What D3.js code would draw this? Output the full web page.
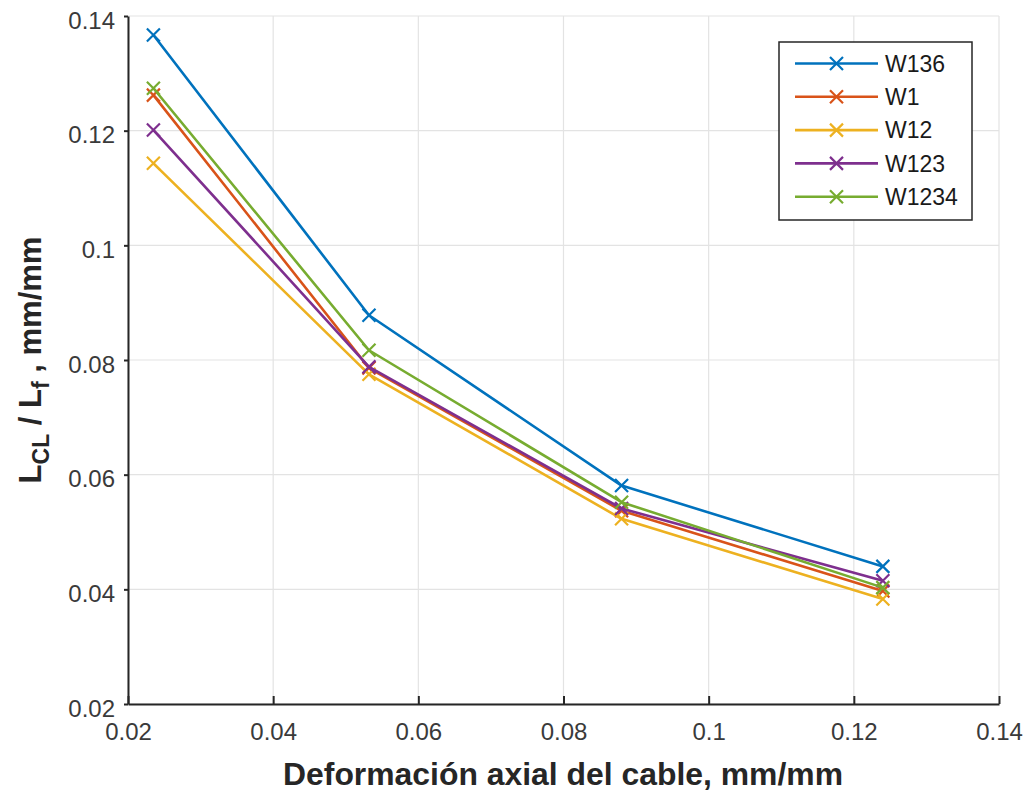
<!DOCTYPE html>
<html><head><meta charset="utf-8">
<script src="https://cdn.jsdelivr.net/npm/d3@7"></script>
<style>
html,body{margin:0;padding:0;background:#fff;}
svg{display:block;font-family:"Liberation Sans",Arial,sans-serif;}
</style></head>
<body>
<svg id="chart" width="1028" height="796"></svg>
<script>
const xValues = [0.0235, 0.0532, 0.0880, 0.1240];
const seriesNames = ["W136", "W1", "W12", "W123", "W1234"];
const W136  = [0.1367, 0.0878, 0.0581, 0.0440];
const W1    = [0.1262, 0.0786, 0.0537, 0.0397];
const W12   = [0.1143, 0.0775, 0.0523, 0.0383];
const W123  = [0.1201, 0.0788, 0.0541, 0.0415];
const W1234 = [0.1274, 0.0817, 0.0552, 0.0403];
const seriesValues = [W136, W1, W12, W123, W1234];
const colors = ["#0072BD", "#D95319", "#EDB120", "#7E2F8E", "#77AC30"];
const xTicks = [0.02, 0.04, 0.06, 0.08, 0.1, 0.12, 0.14];
const yTicks = [0.02, 0.04, 0.06, 0.08, 0.1, 0.12, 0.14];
const xTitle = "Deformación axial del cable, mm/mm";

const svg = d3.select("#chart");
const L = 128, R = 999, T = 16, B = 704;
const x = d3.scaleLinear().domain([0.02, 0.14]).range([L, R]);
const y = d3.scaleLinear().domain([0.02, 0.14]).range([B, T]);
const axisColor = "#262626";

// grid
const grid = svg.append("g");
grid.selectAll("line.gx").data(xTicks).enter().append("line")
  .attr("x1", d => x(d)).attr("x2", d => x(d)).attr("y1", T).attr("y2", B)
  .attr("stroke", "#e3e3e3").attr("stroke-width", 1.2);
grid.selectAll("line.gy").data(yTicks).enter().append("line")
  .attr("y1", d => y(d)).attr("y2", d => y(d)).attr("x1", L).attr("x2", R)
  .attr("stroke", "#e3e3e3").attr("stroke-width", 1.2);

// axes
const fmt = d => String(+d.toFixed(2));
const xAxis = d3.axisBottom(x).tickValues(xTicks).tickSizeInner(-8).tickSizeOuter(0).tickPadding(25).tickFormat(fmt);
const yAxis = d3.axisLeft(y).tickValues(yTicks).tickSizeInner(4).tickSizeOuter(0).tickPadding(9).tickFormat(fmt);

const gx = svg.append("g").attr("transform", `translate(0,${B})`).call(xAxis);
const gy = svg.append("g").attr("transform", `translate(${L},0)`).call(yAxis);
[gx, gy].forEach(g => {
  g.select(".domain").attr("stroke", axisColor).attr("stroke-width", 2);
  g.selectAll(".tick line").attr("stroke", axisColor).attr("stroke-width", 2);
  g.selectAll(".tick text").attr("fill", "#3a3a3a").attr("font-size", 24)
    .attr("font-family", "'Liberation Sans',Arial,sans-serif");
});
gx.selectAll(".tick text").attr("dy", "0.45em");
gy.selectAll(".tick text").attr("dy", "0.5em");

// series
const line = d3.line().x((d, i) => x(xValues[i])).y(d => y(d));
const s = 6.5;
seriesValues.forEach((vals, k) => {
  const g = svg.append("g");
  g.append("path").datum(vals).attr("d", line).attr("fill", "none")
    .attr("stroke", colors[k]).attr("stroke-width", 2.6).attr("stroke-linejoin", "round");
  g.selectAll("path.m").data(vals).enter().append("path")
    .attr("d", (d, i) => {
      const cx = x(xValues[i]), cy = y(d);
      return `M${cx - s},${cy - s}L${cx + s},${cy + s}M${cx - s},${cy + s}L${cx + s},${cy - s}`;
    })
    .attr("stroke", colors[k]).attr("stroke-width", 2.2);
});

// legend
const lg = svg.append("g");
lg.append("rect").attr("x", 779).attr("y", 42).attr("width", 193).attr("height", 178)
  .attr("fill", "#fff").attr("stroke", axisColor).attr("stroke-width", 1.5);
seriesNames.forEach((name, k) => {
  const yy = 63.5 + k * 33.3;
  lg.append("line").attr("x1", 795).attr("x2", 878).attr("y1", yy).attr("y2", yy)
    .attr("stroke", colors[k]).attr("stroke-width", 2.6);
  lg.append("path").attr("d", `M${836.5 - s},${yy - s}L${836.5 + s},${yy + s}M${836.5 - s},${yy + s}L${836.5 + s},${yy - s}`)
    .attr("stroke", colors[k]).attr("stroke-width", 2.2);
  lg.append("text").attr("x", 885).attr("y", yy).attr("dy", "0.36em")
    .attr("font-size", 23).attr("fill", "#1a1a1a").text(name);
});

// x title
svg.append("text").attr("x", 563).attr("y", 785).attr("text-anchor", "middle")
  .attr("font-size", 31).attr("font-weight", "bold").attr("fill", "#262626")
  .attr("textLength", 560).attr("lengthAdjust", "spacingAndGlyphs").text(xTitle);

// y title
const yt = svg.append("text").attr("transform", "translate(41,360) rotate(-90)")
  .attr("text-anchor", "middle").attr("font-size", 31).attr("font-weight", "bold").attr("fill", "#262626");
yt.append("tspan").text("L");
yt.append("tspan").attr("font-size", 23).attr("dy", 8).text("CL");
yt.append("tspan").attr("dy", -8).text(" / L");
yt.append("tspan").attr("font-size", 23).attr("dy", 8).text("f");
yt.append("tspan").attr("dy", -8).text(" , mm/mm");
</script>
</body></html>
